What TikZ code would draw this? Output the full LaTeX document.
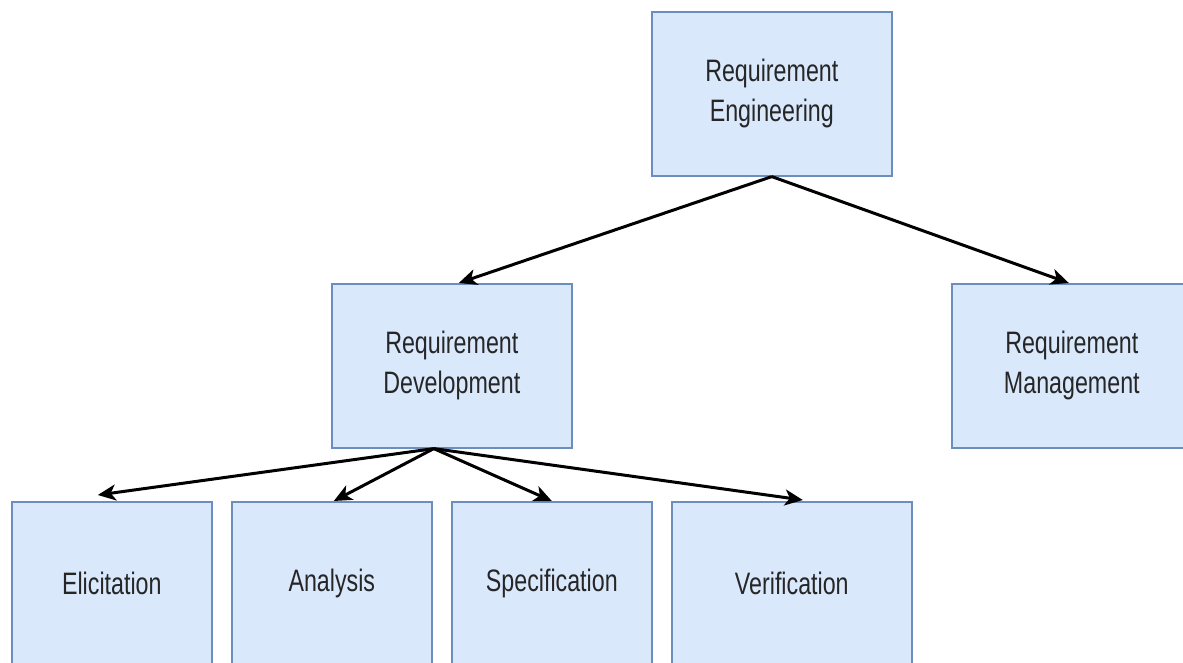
\documentclass[tikz,border=0pt]{standalone}
\usepackage{fontspec}
\setmainfont{Liberation Sans}[FakeStretch=0.75]
\usetikzlibrary{arrows.meta}
\definecolor{boxfill}{HTML}{DAE8FC}
\definecolor{boxline}{HTML}{6C8EBF}
\begin{document}
\begin{tikzpicture}[x=1pt,y=-1pt,
  box/.style={draw=boxline, fill=boxfill, line width=1.6pt,
    minimum width=240pt, minimum height=164pt, inner sep=0pt,
    align=center, font=\fontsize{31}{40}\selectfont, text=black!85,
    anchor=north west},
  smallbox/.style={box, minimum width=200pt},
  link/.style={line width=3pt, -{Stealth[length=18pt,width=16pt,inset=5pt]}}]
\useasboundingbox (0,0) rectangle (1183,662);
\clip (0,0) rectangle (1183,662);

% levels of the hierarchy
\node[box] (re) at (651,11) {Requirement\\Engineering};
\node[box] (rd) at (331,283) {Requirement\\Development};
\node[box] (rm) at (951,283) {Requirement\\Management};
\node[smallbox] (el) at (11,501) {Elicitation};
\node[smallbox] (an) at (231,501) {Analysis};
\node[smallbox] (sp) at (451,501) {Specification};
\node[box] (ve) at (671,501) {Verification};

% connectors
\draw[link] (re.south) -- ([xshift=7pt]rd.north);
\draw[link] (re.south) -- ([xshift=-3pt]rm.north);
\coordinate (rdout) at ([xshift=-18pt]rd.south);
\draw[link] (rdout) -- ([xshift=-14pt,yshift=6pt]el.north);
\draw[link] (rdout) -- ([xshift=2pt]an.north);
\draw[link] (rdout) -- (sp.north);
\draw[link] (rdout) -- ([xshift=11pt,yshift=1pt]ve.north);
\end{tikzpicture}
\end{document}
